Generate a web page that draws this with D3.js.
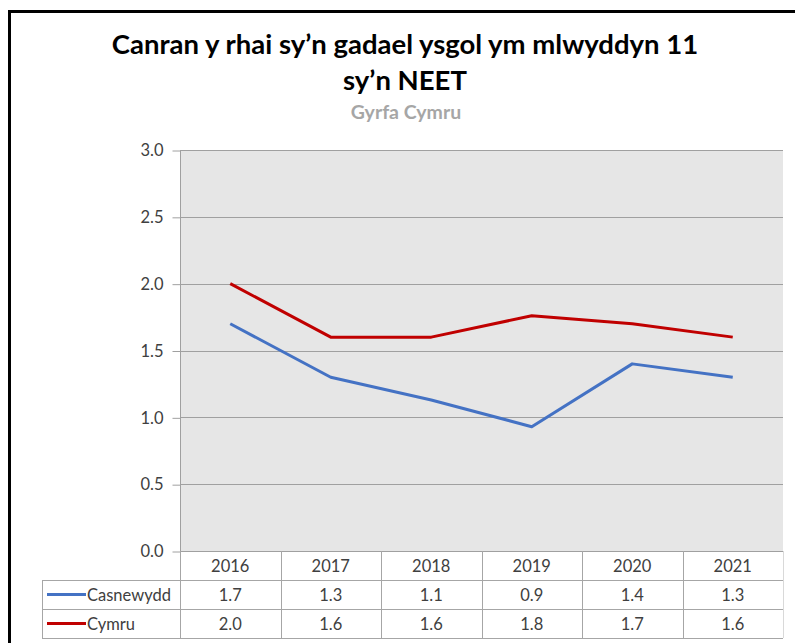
<!DOCTYPE html>
<html>
<head>
<meta charset="utf-8">
<script src="https://cdn.jsdelivr.net/npm/d3@7"></script>
<style>
  body { margin: 0; background: #fff; }
  svg { display: block; font-family: Lato, "Open Sans", sans-serif; }
</style>
</head>
<body>
<div class="visHolder"></div>
<script>
// data
const years = ["2016", "2017", "2018", "2019", "2020", "2021"];
const casnewydd = [1.7, 1.3, 1.13, 0.93, 1.4, 1.3];
const cymru = [2.0, 1.6, 1.6, 1.76, 1.7, 1.6];
const casnewyddLabels = ["1.7", "1.3", "1.1", "0.9", "1.4", "1.3"];
const cymruLabels = ["2.0", "1.6", "1.6", "1.8", "1.7", "1.6"];
const yTicks = [0, 0.5, 1, 1.5, 2, 2.5, 3];
const titleLines = ["Canran y rhai sy\u2019n gadael ysgol ym mlwyddyn 11", "sy\u2019n NEET"];
const subtitle = "Gyrfa Cymru";

const series = [
  { name: "Casnewydd", values: casnewydd, labels: casnewyddLabels, color: "#4472c4" },
  { name: "Cymru", values: cymru, labels: cymruLabels, color: "#c00000" }
];

const w = 795;
const h = 643;
const plotL = 180, plotR = 783, plotT = 150, plotB = 551;
const rowH = [plotB, 580, 609, 638];
const fs = 16.5;

const svg = d3.select(".visHolder")
  .append("svg")
  .attr("width", w)
  .attr("height", h);

svg.append("rect").attr("width", w).attr("height", h).attr("fill", "#fff");

// outer frame (only left and top visible)
svg.append("path")
  .attr("d", "M9.5," + h + " V11.5 H" + w)
  .attr("fill", "none")
  .attr("stroke", "#000")
  .attr("stroke-width", 3);

// title
svg.selectAll(".title")
  .data(titleLines)
  .enter()
  .append("text")
  .attr("class", "title")
  .attr("x", 405)
  .attr("y", (d, i) => 54 + i * 36)
  .attr("text-anchor", "middle")
  .attr("font-size", 27.5)
  .attr("font-weight", "bold")
  .attr("fill", "#000")
  .text(d => d);

svg.append("text")
  .attr("x", 406)
  .attr("y", 119)
  .attr("text-anchor", "middle")
  .attr("font-size", 19.5)
  .attr("font-weight", "bold")
  .attr("fill", "#a6a6a6")
  .text(subtitle);

// scales
const xScale = d3.scaleBand()
  .domain(years)
  .range([plotL, plotR]);

const yScale = d3.scaleLinear()
  .domain([0, 3])
  .range([plotB, plotT]);

// plot background
svg.append("rect")
  .attr("x", plotL)
  .attr("y", plotT)
  .attr("width", plotR - plotL)
  .attr("height", plotB - plotT)
  .attr("fill", "#e6e6e6");

// gridlines
svg.append("g")
  .selectAll("line")
  .data(yTicks)
  .enter()
  .append("line")
  .attr("x1", plotL)
  .attr("x2", plotR)
  .attr("y1", d => Math.round(yScale(d)) + 0.5)
  .attr("y2", d => Math.round(yScale(d)) + 0.5)
  .attr("stroke", "#a0a0a0")
  .attr("stroke-width", 1);

// y axis
const yAxis = d3.axisLeft(yScale)
  .tickValues(yTicks)
  .tickFormat(d3.format(".1f"))
  .tickSize(8)
  .tickPadding(9);

const gy = svg.append("g")
  .attr("transform", "translate(" + (plotL + 0.5) + ",0.5)")
  .call(yAxis);
gy.select(".domain").attr("stroke", "#a0a0a0").attr("d", "M0," + plotT + "V" + plotB);
gy.selectAll(".tick line").attr("stroke", "#a0a0a0");
gy.selectAll(".tick text")
  .attr("font-size", fs)
  .attr("font-family", "Lato, sans-serif")
  .attr("fill", "#404040");

// lines
const line = d3.line()
  .x((d, i) => xScale(years[i]) + xScale.bandwidth() / 2)
  .y(d => yScale(d));

svg.selectAll(".series")
  .data(series)
  .enter()
  .append("path")
  .attr("class", "series")
  .attr("d", d => line(d.values))
  .attr("fill", "none")
  .attr("stroke", d => d.color)
  .attr("stroke-width", 3)
  .attr("stroke-linejoin", "round");

// data table
const tbl = svg.append("g").attr("stroke", "#a6a6a6").attr("stroke-width", 1);

// horizontal lines
[rowH[1], rowH[2], rowH[3]].forEach(y => {
  tbl.append("line")
    .attr("x1", 42).attr("x2", plotR)
    .attr("y1", y + 0.5).attr("y2", y + 0.5);
});
// vertical lines
tbl.append("line").attr("x1", 42.5).attr("x2", 42.5).attr("y1", rowH[1]).attr("y2", rowH[3]);
years.forEach(yr => {
  const x = Math.round(xScale(yr)) + 0.5;
  tbl.append("line").attr("x1", x).attr("x2", x).attr("y1", rowH[0]).attr("y2", rowH[3]);
});
tbl.append("line").attr("x1", plotR + 0.5).attr("x2", plotR + 0.5).attr("y1", rowH[0]).attr("y2", rowH[3])
  .attr("stroke", "#d9d9d9");

// header
svg.append("g")
  .selectAll("text")
  .data(years)
  .enter()
  .append("text")
  .attr("x", d => xScale(d) + xScale.bandwidth() / 2)
  .attr("y", (rowH[0] + rowH[1]) / 2 + 6)
  .attr("text-anchor", "middle")
  .attr("font-size", fs)
  .attr("fill", "#404040")
  .text(d => d);

// rows
series.forEach((s, r) => {
  const yMid = (rowH[r + 1] + rowH[r + 2]) / 2;
  svg.append("line")
    .attr("x1", 47).attr("x2", 86)
    .attr("y1", yMid).attr("y2", yMid)
    .attr("stroke", s.color)
    .attr("stroke-width", 3);
  svg.append("text")
    .attr("x", 87)
    .attr("y", yMid + 6)
    .attr("font-size", fs)
    .attr("fill", "#404040")
    .text(s.name);
  svg.append("g")
    .selectAll("text")
    .data(s.labels)
    .enter()
    .append("text")
    .attr("x", (d, i) => xScale(years[i]) + xScale.bandwidth() / 2)
    .attr("y", yMid + 6)
    .attr("text-anchor", "middle")
    .attr("font-size", fs)
    .attr("fill", "#404040")
    .text(d => d);
});
</script>
</body>
</html>
